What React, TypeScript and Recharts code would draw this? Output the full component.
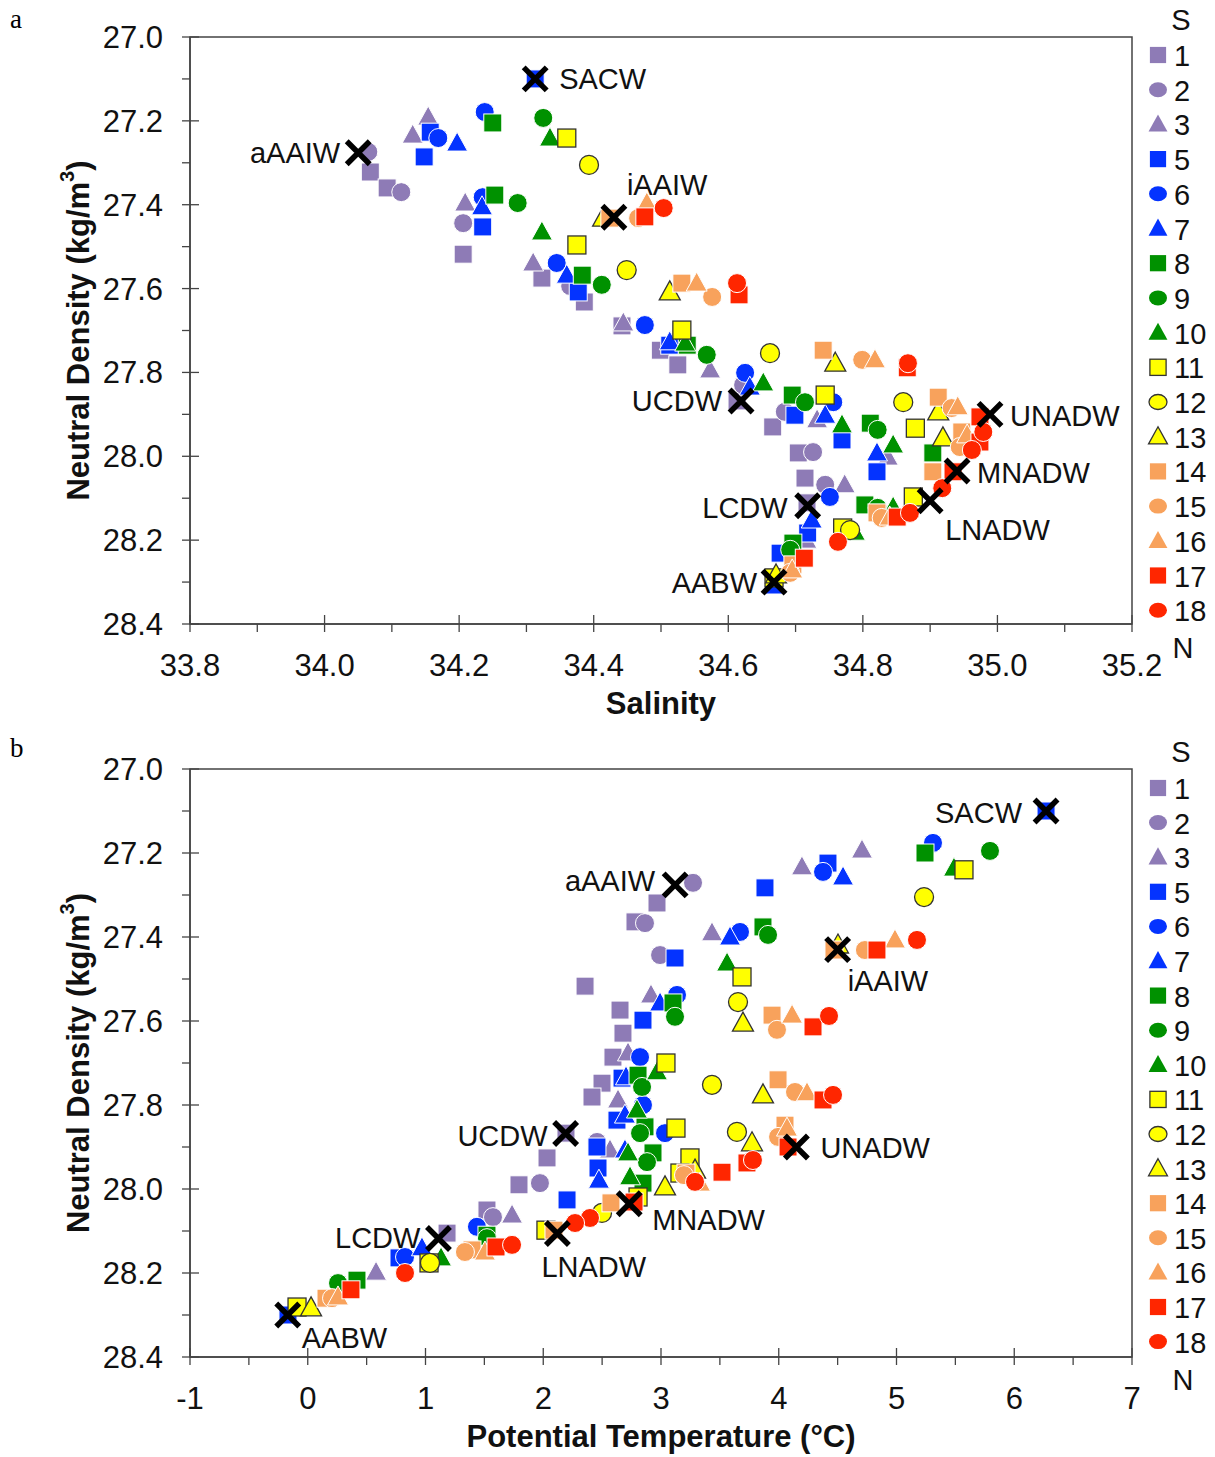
import { ScatterChart, Scatter, XAxis, YAxis, ReferenceArea } from "recharts";

const FONT = '"Liberation Sans", Arial, Helvetica, sans-serif';

// stations (there is no station 4)
const stations = [1, 2, 3, 5, 6, 7, 8, 9, 10, 11, 12, 13, 14, 15, 16, 17, 18];

// panel a: [salinity, neutral density]
const sal1 = [[34.068, 27.322], [34.093, 27.36], [34.206, 27.518], [34.323, 27.575], [34.386, 27.632], [34.442, 27.689], [34.499, 27.747], [34.525, 27.782], [34.613, 27.868], [34.666, 27.93], [34.704, 27.992], [34.714, 28.052], [34.717, 28.111]];
const sal2 = [[34.065, 27.274], [34.114, 27.37], [34.206, 27.444], [34.365, 27.594], [34.622, 27.83], [34.684, 27.894], [34.726, 27.99], [34.744, 28.068]];
const sal3 = [[34.154, 27.191], [34.131, 27.234], [34.209, 27.396], [34.31, 27.539], [34.444, 27.682], [34.573, 27.794], [34.732, 27.913], [34.837, 28.002], [34.773, 28.068], [34.716, 28.2]];
const sal5 = [[34.313, 27.1], [34.157, 27.227], [34.148, 27.286], [34.235, 27.453], [34.377, 27.608], [34.513, 27.735], [34.699, 27.902], [34.769, 27.961], [34.821, 28.037], [34.718, 28.183], [34.677, 28.231], [34.668, 28.307]];
const sal6 = [[34.238, 27.179], [34.169, 27.241], [34.235, 27.382], [34.345, 27.539], [34.476, 27.687], [34.625, 27.801], [34.756, 27.871], [34.751, 28.097]];
const sal7 = [[34.197, 27.253], [34.234, 27.405], [34.36, 27.568], [34.513, 27.727], [34.632, 27.835], [34.744, 27.902], [34.821, 27.992], [34.724, 28.152]];
const sal8 = [[34.25, 27.205], [34.253, 27.377], [34.383, 27.568], [34.539, 27.735], [34.695, 27.854], [34.811, 27.921], [34.904, 27.992], [34.803, 28.116], [34.696, 28.207]];
const sal9 = [[34.325, 27.193], [34.287, 27.396], [34.412, 27.591], [34.568, 27.758], [34.714, 27.871], [34.822, 27.937], [34.822, 28.123], [34.692, 28.223]];
const sal10 = [[34.335, 27.241], [34.323, 27.465], [34.536, 27.73], [34.652, 27.825], [34.769, 27.925], [34.845, 27.973], [34.845, 28.121], [34.788, 28.181]];
const sal11 = [[34.36, 27.241], [34.375, 27.496], [34.531, 27.699], [34.744, 27.854], [34.878, 27.933], [34.875, 28.097], [34.77, 28.171], [34.668, 28.29]];
const sal12 = [[34.393, 27.305], [34.449, 27.556], [34.662, 27.754], [34.86, 27.871], [34.781, 28.176]];
const sal13 = [[34.414, 27.432], [34.513, 27.608], [34.759, 27.778], [34.912, 27.894], [34.919, 27.956], [34.671, 28.283]];
const sal14 = [[34.424, 27.432], [34.531, 27.587], [34.741, 27.747], [34.912, 27.859], [34.947, 27.942], [34.904, 28.037], [34.821, 28.135], [34.696, 28.259]];
const sal15 = [[34.466, 27.432], [34.576, 27.62], [34.799, 27.77], [34.932, 27.885], [34.944, 27.978], [34.828, 28.147], [34.692, 28.278]];
const sal16 = [[34.479, 27.396], [34.553, 27.587], [34.818, 27.77], [34.941, 27.882], [34.955, 27.949], [34.84, 28.145], [34.695, 28.271]];
const sal17 = [[34.476, 27.429], [34.616, 27.615], [34.866, 27.789], [34.974, 27.906], [34.974, 27.966], [34.934, 28.037], [34.851, 28.145], [34.713, 28.243]];
const sal18 = [[34.504, 27.408], [34.613, 27.587], [34.867, 27.778], [34.979, 27.942], [34.962, 27.985], [34.918, 28.076], [34.87, 28.135], [34.763, 28.204]];

// panel b: [potential temperature, neutral density]
const pt1 = [[2.966, 27.319], [2.779, 27.364], [2.355, 27.517], [2.652, 27.574], [2.677, 27.629], [2.592, 27.686], [2.499, 27.748], [2.414, 27.781], [2.193, 27.867], [2.032, 27.926], [1.794, 27.99], [1.522, 28.05], [1.183, 28.105]];
const pt2 = [[3.272, 27.271], [2.864, 27.367], [2.992, 27.443], [2.457, 27.888], [1.972, 27.986], [1.573, 28.067]];
const pt3 = [[4.707, 27.193], [4.197, 27.233], [3.433, 27.39], [2.915, 27.538], [2.72, 27.676], [2.635, 27.788], [2.567, 27.907], [1.735, 28.062], [0.58, 28.198]];
const pt5 = [[6.27, 27.1], [4.418, 27.224], [3.883, 27.283], [3.119, 27.45], [2.847, 27.598], [2.669, 27.736], [2.626, 27.836], [2.456, 27.9], [2.465, 27.95], [2.202, 28.026], [0.775, 28.164], [-0.168, 28.3]];
const pt6 = [[5.31, 27.176], [4.376, 27.245], [3.671, 27.388], [3.136, 27.538], [2.822, 27.686], [2.847, 27.8], [3.034, 27.867], [1.437, 28.09], [0.826, 28.162]];
const pt7 = [[4.546, 27.257], [3.586, 27.4], [2.992, 27.557], [2.703, 27.733], [2.694, 27.824], [2.694, 27.907], [2.473, 27.979], [0.97, 28.14]];
const pt8 = [[5.242, 27.2], [3.866, 27.376], [3.102, 27.557], [2.805, 27.729], [2.864, 27.852], [2.932, 27.914], [2.847, 27.986], [1.522, 28.11], [0.418, 28.217]];
const pt9 = [[5.794, 27.195], [3.909, 27.395], [3.119, 27.59], [2.839, 27.757], [2.822, 27.867], [2.881, 27.936], [1.522, 28.117], [0.257, 28.224]];
const pt10 = [[5.488, 27.236], [3.561, 27.462], [2.966, 27.721], [2.796, 27.812], [2.72, 27.914], [2.737, 27.971], [1.132, 28.164]];
const pt11 = [[5.573, 27.24], [3.688, 27.495], [3.042, 27.7], [3.127, 27.855], [3.246, 27.926], [3.161, 27.962], [2.805, 28.019], [2.023, 28.098], [1.03, 28.176], [-0.091, 28.281]];
const pt12 = [[5.234, 27.305], [3.654, 27.555], [3.433, 27.752], [3.645, 27.864], [2.499, 28.057], [1.038, 28.176]];
const pt13 = [[4.503, 27.419], [3.696, 27.605], [3.866, 27.776], [3.773, 27.89], [3.289, 27.955], [3.034, 27.995], [0.028, 28.283]];
const pt14 = [[4.469, 27.431], [3.943, 27.586], [3.994, 27.74], [4.053, 27.848], [3.212, 27.962], [2.575, 28.033], [2.091, 28.098], [1.395, 28.145], [0.155, 28.26]];
const pt15 = [[4.732, 27.431], [3.985, 27.621], [4.138, 27.769], [3.994, 27.876], [3.195, 27.967], [1.335, 28.15], [0.206, 28.26]];
const pt16 = [[4.987, 27.407], [4.113, 27.586], [4.24, 27.771], [4.07, 27.855], [3.331, 27.986], [1.505, 28.15], [0.257, 28.257]];
const pt17 = [[4.834, 27.431], [4.291, 27.614], [4.376, 27.788], [4.079, 27.9], [3.73, 27.938], [3.518, 27.96], [2.771, 28.031], [1.599, 28.138], [0.367, 28.24]];
const pt18 = [[5.174, 27.407], [4.427, 27.588], [4.461, 27.776], [3.781, 27.931], [3.289, 27.983], [2.397, 28.069], [2.27, 28.081], [1.735, 28.133], [0.826, 28.2]];

const salinitySeries = [sal1, sal2, sal3, sal5, sal6, sal7, sal8, sal9, sal10, sal11, sal12, sal13, sal14, sal15, sal16, sal17, sal18];
const thetaSeries = [pt1, pt2, pt3, pt5, pt6, pt7, pt8, pt9, pt10, pt11, pt12, pt13, pt14, pt15, pt16, pt17, pt18];

// water mass end members
const massNames = ["SACW", "aAAIW", "iAAIW", "UCDW", "UNADW", "MNADW", "LNADW", "LCDW", "AABW"];
const massSalinity = [34.313, 34.05, 34.43, 34.619, 34.989, 34.94, 34.9, 34.718, 34.668];
const massTheta = [6.27, 3.12, 4.5, 2.19, 4.15, 2.73, 2.12, 1.11, -0.17];
const massDensity = [27.1, 27.276, 27.43, 27.868, 27.9, 28.035, 28.106, 28.118, 28.3];

// ticks
const salinityTicks = [33.8, 34.0, 34.2, 34.4, 34.6, 34.8, 35.0, 35.2];
const salinityMinor = [33.9, 34.1, 34.3, 34.5, 34.7, 34.9, 35.1];
const thetaTicks = [-1, 0, 1, 2, 3, 4, 5, 6, 7];
const thetaMinor = [-0.5, 0.5, 1.5, 2.5, 3.5, 4.5, 5.5, 6.5];
const densityTicks = [27.0, 27.2, 27.4, 27.6, 27.8, 28.0, 28.2, 28.4];
const densityMinor = [27.1, 27.3, 27.5, 27.7, 27.9, 28.1, 28.3];

// styling
const PURPLE = "#8e7bb6";
const BLUE = "#0433ff";
const GREEN = "#009100";
const YELLOW = "#ffff00";
const ORANGE = "#f8a25c";
const RED = "#ff2600";
const groupColors = [PURPLE, BLUE, GREEN, YELLOW, ORANGE, RED];
const shapeCycle = ["square", "circle", "triangle"];
const AXIS = "#444";

const labelPosA: Record<string, [number, number, string]> = {
  SACW: [24, 0, "start"], aAAIW: [-18, 0, "end"], iAAIW: [13, -32, "start"],
  UCDW: [-19, 0, "end"], UNADW: [20, 2, "start"], MNADW: [20, 2, "start"],
  LNADW: [15, 29, "start"], LCDW: [-20, 2, "end"], AABW: [-17, 1, "end"],
};
const labelPosB: Record<string, [number, number, string]> = {
  SACW: [-24, 2, "end"], aAAIW: [-20, -4, "end"], iAAIW: [10, 31, "start"],
  UCDW: [-18, 2, "end"], UNADW: [24, 1, "start"], MNADW: [23, 16, "start"],
  LNADW: [-16, 33, "start"], LCDW: [-18, -1, "end"], AABW: [14, 23, "start"],
};

const styleOf = (i: number) => {
  const color = groupColors[Math.floor(i / 3)];
  return { kind: shapeCycle[i % 3], fill: color, stroke: color === YELLOW ? "#333" : "#fff", sw: color === YELLOW ? 1.3 : 1 };
};

function Marker({ cx, cy, kind, fill, stroke, sw, s = 1 }: any) {
  if (cx == null || cy == null) return null;
  if (kind === "square")
    return <rect x={cx - 9 * s} y={cy - 9 * s} width={18 * s} height={18 * s} fill={fill} stroke={stroke} strokeWidth={sw} />;
  if (kind === "circle") return <circle cx={cx} cy={cy} r={9.5 * s} fill={fill} stroke={stroke} strokeWidth={sw} />;
  return (
    <polygon
      points={`${cx},${cy - 11 * s} ${cx + 10.5 * s},${cy + 8 * s} ${cx - 10.5 * s},${cy + 8 * s}`}
      fill={fill}
      stroke={stroke}
      strokeWidth={sw}
    />
  );
}

const isIn = (arr: number[], v: number) => arr.some((t) => Math.abs(t - v) < 1e-6);

const xTick = (major: number[], fmt: (v: number) => string) => (p: any) => {
  const { x, y, payload } = p;
  const big = isIn(major, payload.value);
  return (
    <g>
      <line x1={x} x2={x} y1={big ? y - 9 : y} y2={y + 8} stroke={AXIS} strokeWidth={1.3} />
      {big && (
        <text x={x} y={y + 52} textAnchor="middle" fontSize={31} fontFamily={FONT} fill="#111">
          {fmt(payload.value)}
        </text>
      )}
    </g>
  );
};

const yTick = (p: any) => {
  const { x, y, payload } = p;
  const big = isIn(densityTicks, payload.value);
  return (
    <g>
      <line x1={x - 8} x2={big ? x + 9 : x} y1={y} y2={y} stroke={AXIS} strokeWidth={1.3} />
      {big && (
        <text x={x - 27} y={y + 11} textAnchor="end" fontSize={31} fontFamily={FONT} fill="#111">
          {payload.value.toFixed(1)}
        </text>
      )}
    </g>
  );
};

const massShape = (pos: Record<string, [number, number, string]>) => (p: any) => {
  const { cx, cy, payload } = p;
  const [dx, dy, anchor] = pos[payload.name];
  const r = 11.5;
  return (
    <g>
      <path d={`M${cx - r},${cy - r}L${cx + r},${cy + r}M${cx + r},${cy - r}L${cx - r},${cy + r}`} stroke="#000" strokeWidth={5.5} />
      <text x={cx + dx} y={cy + dy} textAnchor={anchor as any} dominantBaseline="central" fontSize={29} fontFamily={FONT} fill="#111">
        {payload.name}
      </text>
    </g>
  );
};

function Panel({ series, massX, xDomain, xMajor, xMinor, fmt, title, pos, height, top, bottom }: any) {
  const massData = massNames.map((name, i) => ({ name, x: massX[i], y: massDensity[i] }));
  return (
    <ScatterChart width={1215} height={height} margin={{ top, right: 83, left: 90, bottom }}>
      <XAxis
        type="number"
        dataKey="x"
        domain={xDomain}
        ticks={[...xMajor, ...xMinor].sort((a, b) => a - b)}
        interval={0}
        tickLine={false}
        tickSize={0}
        tickMargin={0}
        tick={xTick(xMajor, fmt)}
        axisLine={{ stroke: AXIS, strokeWidth: 1.5 }}
        height={60}
        label={{
          content: ({ viewBox }: any) => (
            <text x={viewBox.x + viewBox.width / 2} y={viewBox.y + 90} textAnchor="middle" fontSize={31} fontWeight="bold" fontFamily={FONT} fill="#111">
              {title}
            </text>
          ),
        }}
      />
      <YAxis
        type="number"
        dataKey="y"
        reversed
        domain={[27.0, 28.4]}
        ticks={[...densityTicks, ...densityMinor].sort((a, b) => a - b)}
        interval={0}
        tickLine={false}
        tickSize={0}
        tickMargin={0}
        tick={yTick}
        axisLine={{ stroke: AXIS, strokeWidth: 1.5 }}
        width={100}
        label={{
          content: ({ viewBox }: any) => {
            const cx = viewBox.x - 12;
            const cy = viewBox.y + viewBox.height / 2;
            return (
              <text x={cx} y={cy} transform={`rotate(-90 ${cx} ${cy})`} textAnchor="middle" dominantBaseline="central" fontSize={31} fontWeight="bold" fontFamily={FONT} fill="#111">
                Neutral Density (kg/m
                <tspan fontSize={20} dy={-11}>3</tspan>
                <tspan dy={11}>)</tspan>
              </text>
            );
          },
        }}
      />
      <ReferenceArea x1={xDomain[0]} x2={xDomain[1]} y1={27.0} y2={28.4} fill="none" fillOpacity={0} stroke={AXIS} strokeWidth={1.5} ifOverflow="visible" />
      {series.map((pts: number[][], i: number) => {
        const st = styleOf(i);
        return (
          <Scatter
            key={stations[i]}
            name={String(stations[i])}
            data={pts.map(([x, y]) => ({ x, y }))}
            isAnimationActive={false}
            shape={(p: any) => <Marker cx={p.cx} cy={p.cy} {...st} />}
          />
        );
      })}
      <Scatter name="water masses" data={massData} isAnimationActive={false} shape={massShape(pos)} />
    </ScatterChart>
  );
}

function LegendColumn({ sY, firstY, step, nY }: any) {
  return (
    <g fontFamily={FONT} fontSize={29} fill="#111">
      <text x={1181} y={sY} textAnchor="middle" dominantBaseline="central">S</text>
      {stations.map((s, i) => {
        const st = styleOf(i);
        const y = firstY + i * step;
        return (
          <g key={s}>
            {st.kind === "circle" ? (
              <ellipse cx={1158} cy={y} rx={9} ry={7.5} fill={st.fill} stroke={st.stroke === "#333" ? "#333" : "none"} strokeWidth={1.3} />
            ) : (
              <Marker cx={1158} cy={y} kind={st.kind} fill={st.fill} stroke={st.stroke === "#333" ? "#333" : "none"} sw={1.3} s={0.9} />
            )}
            <text x={1174} y={y + 1} dominantBaseline="central">{s}</text>
          </g>
        );
      })}
      <text x={1183} y={nY} textAnchor="middle" dominantBaseline="central">N</text>
    </g>
  );
}

export default function App() {
  return (
    <div style={{ position: "absolute", left: 0, top: 0, width: 1215, height: 1457, background: "#fff" }}>
      <div style={{ position: "absolute", left: 0, top: 0 }}>
        <Panel
          series={salinitySeries}
          massX={massSalinity}
          xDomain={[33.8, 35.2]}
          xMajor={salinityTicks}
          xMinor={salinityMinor}
          fmt={(v: number) => v.toFixed(1)}
          title="Salinity"
          pos={labelPosA}
          height={730}
          top={37}
          bottom={46}
        />
      </div>
      <div style={{ position: "absolute", left: 0, top: 730 }}>
        <Panel
          series={thetaSeries}
          massX={massTheta}
          xDomain={[-1, 7]}
          xMajor={thetaTicks}
          xMinor={thetaMinor}
          fmt={(v: number) => String(v)}
          title="Potential Temperature (°C)"
          pos={labelPosB}
          height={727}
          top={39}
          bottom={40}
        />
      </div>
      <svg width={1215} height={1457} style={{ position: "absolute", left: 0, top: 0, pointerEvents: "none" }}>
        <text x={10} y={28} fontSize={27} fontFamily='"Liberation Serif", "Times New Roman", serif'>a</text>
        <text x={10} y={757} fontSize={27} fontFamily='"Liberation Serif", "Times New Roman", serif'>b</text>
        <LegendColumn sY={20} firstY={55} step={34.7} nY={648} />
        <LegendColumn sY={752} firstY={788} step={34.6} nY={1380} />
      </svg>
    </div>
  );
}
